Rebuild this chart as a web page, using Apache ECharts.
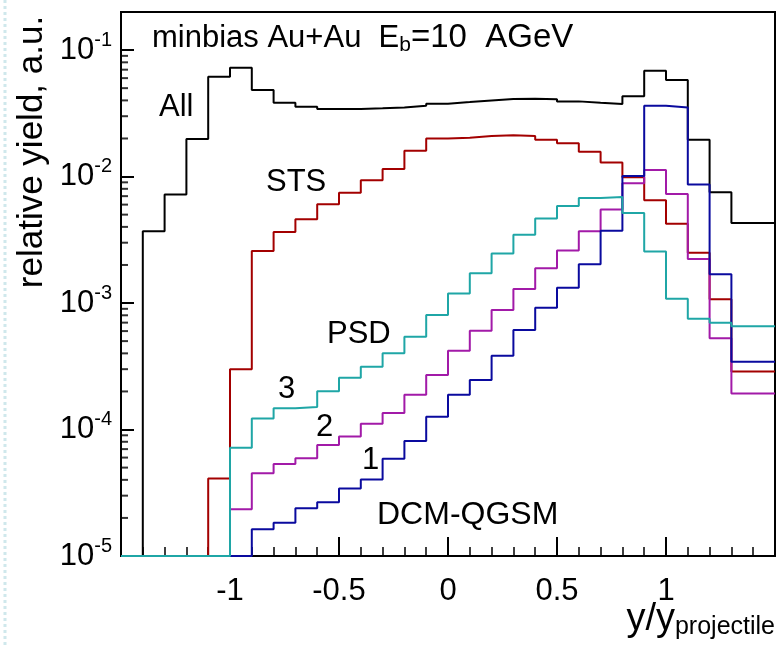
<!DOCTYPE html>
<html>
<head>
<meta charset="utf-8">
<script src="https://cdn.jsdelivr.net/npm/echarts@6/dist/echarts.min.js"></script>
<style>
html, body { margin: 0; padding: 0; background: #fff; }
#main { width: 777px; height: 648px; }
</style>
</head>
<body>
<div id="main"></div>
<script>
// histogram binning, y/y_projectile
var binStart = -1.5;
var binWidth = 0.1;
var xMin = -1.5, xMax = 1.5;
var yMin = 1e-5, yMax = 0.2;

// 30 bins each, from -1.5 to 1.5 (0 = empty bin)
var allYield = [0, 3.7e-3, 7.2e-3, 0.0198, 0.0615, 0.0725, 0.0483, 0.0383, 0.0357, 0.0342,
    0.0342, 0.0346, 0.0352, 0.0363, 0.0377, 0.0388, 0.040, 0.041, 0.0413, 0.0408,
    0.0393, 0.0383, 0.0375, 0.0432, 0.0686, 0.058, 0.0195, 7.5e-3, 4.3e-3, 4.3e-3];
var stsYield = [0, 0, 0, 0, 4.1e-5, 3.0e-4, 2.58e-3, 3.64e-3, 4.59e-3, 6.03e-3,
    7.45e-3, 9.37e-3, 0.0115, 0.0160, 0.0200, 0.0203, 0.0209, 0.0212, 0.0209, 0.0195,
    0.0183, 0.0157, 0.0129, 9.86e-3, 6.49e-3, 4.24e-3, 2.5e-3, 1.07e-3, 2.88e-4, 2.88e-4];
var psdYield = [0, 0, 0, 0, 0, 7.18e-5, 1.22e-4, 1.47e-4, 1.51e-4, 2.01e-4,
    2.57e-4, 3.13e-4, 4.0e-4, 5.42e-4, 8.04e-4, 1.19e-3, 1.72e-3, 2.46e-3, 3.47e-3, 4.67e-3,
    5.86e-3, 6.78e-3, 6.88e-3, 5.14e-3, 2.55e-3, 1.08e-3, 7.52e-4, 6.98e-4, 6.55e-4, 6.55e-4];
var hits2Yield = [0, 0, 0, 0, 0, 2.34e-5, 4.51e-5, 5.34e-5, 5.92e-5, 7.53e-5,
    8.8e-5, 1.11e-4, 1.35e-4, 1.88e-4, 2.70e-4, 4.2e-4, 6.04e-4, 8.81e-4, 1.29e-3, 1.88e-3,
    2.6e-3, 3.69e-3, 5.5e-3, 8.85e-3, 0.01125, 7.27e-3, 2.23e-3, 5.26e-4, 1.93e-4, 1.93e-4];
var hits1Yield = [0, 0, 0, 0, 0, 0, 1.63e-5, 1.83e-5, 2.38e-5, 2.66e-5,
    3.41e-5, 4.02e-5, 5.87e-5, 8.1e-5, 1.26e-4, 1.88e-4, 2.46e-4, 3.83e-4, 6.12e-4, 9.18e-4,
    1.32e-3, 2.03e-3, 3.72e-3, 0.0101, 0.0363, 0.0352, 8.67e-3, 1.69e-3, 3.44e-4, 3.44e-4];

var yDecades = [1e-5, 1e-4, 1e-3, 1e-2, 1e-1];

var font = 'Liberation Sans, Arial, sans-serif';

// bin contents -> step outline, empty bins sit on the frame bottom like ROOT does
function histPath(values) {
    var pts = [];
    for (var i = 0; i < values.length; i++) {
        var lo = +(binStart + i * binWidth).toFixed(2);
        var hi = +(lo + binWidth).toFixed(2);
        var v = values[i] > yMin ? values[i] : yMin;
        pts.push([lo, v], [hi, v]);
    }
    return pts;
}

function histSeries(name, values, color) {
    return {
        name: name,
        type: 'line',
        data: histPath(values),
        symbol: 'none',
        lineStyle: { color: color, width: 2 },
        itemStyle: { color: color },
        animation: false,
        silent: true
    };
}

// log minor ticks 2..9 x 10^n
var minorTickVals = [];
yDecades.forEach(function (d) {
    for (var k = 2; k <= 9; k++) {
        if (d * k <= yMax * 1.0001) minorTickVals.push(d * k);
    }
});

var myChart = echarts.init(document.getElementById('main'));

myChart.setOption({
    backgroundColor: '#fff',
    animation: false,
    grid: {
        left: 121, right: 2, top: 12, bottom: 92,
        show: true, borderColor: '#000', borderWidth: 2
    },
    xAxis: {
        type: 'value',
        min: xMin, max: xMax, interval: 0.5,
        axisLine: { show: true, onZero: false, lineStyle: { color: '#000', width: 2 } },
        axisTick: { show: true, inside: true, length: 19, lineStyle: { color: '#000', width: 2 } },
        minorTick: { show: true, splitNumber: 5, length: 9, lineStyle: { color: '#000', width: 1.5 } },
        splitLine: { show: false },
        axisLabel: {
            show: true,
            color: '#000', fontSize: 31, fontFamily: font, margin: 20,
            showMinLabel: false, showMaxLabel: false
        }
    },
    yAxis: {
        type: 'log', logBase: 10,
        min: yMin, max: yMax,
        axisLine: { show: true, onZero: false, lineStyle: { color: '#000', width: 2 } },
        axisTick: { show: true, inside: true, length: 13, lineStyle: { color: '#000', width: 2 } },
        splitLine: { show: false },
        axisLabel: {
            show: true,
            margin: 9,
            showMaxLabel: false,
            formatter: function (v) {
                var l = Math.log10(v);
                var e = Math.round(l);
                if (Math.abs(l - e) > 1e-6) return '';
                return '{b|10}{e|' + e + '}';
            },
            rich: {
                b: { fontSize: 31, lineHeight: 40, fontFamily: font, color: '#000' },
                e: { fontSize: 20, lineHeight: 20, fontFamily: font, color: '#000', verticalAlign: 'top' }
            }
        }
    },
    graphic: [
        {
            type: 'line', silent: true,
            shape: { x1: 5, y1: 0, x2: 5, y2: 648 },
            style: { stroke: '#cfe8ec', lineWidth: 3, lineDash: [3, 3] }
        },
        {
            type: 'text', x: 152, y: 38,
            style: {
                text: '{t|minbias Au+Au  E}{s|b}{u|=10  AGeV}',
                verticalAlign: 'middle',
                rich: {
                    t: { fontSize: 31, lineHeight: 36, fontFamily: font, fill: '#000' },
                    s: { fontSize: 21, lineHeight: 14, fontFamily: font, fill: '#000', verticalAlign: 'bottom' },
                    u: { fontSize: 33, lineHeight: 36, fontFamily: font, fill: '#000' }
                }
            }
        },
        { type: 'text', x: 159, y: 107, style: { text: 'All', font: '31px ' + font, fill: '#000', verticalAlign: 'middle' } },
        { type: 'text', x: 266, y: 182, style: { text: 'STS', font: '31px ' + font, fill: '#000', verticalAlign: 'middle' } },
        { type: 'text', x: 327, y: 334, style: { text: 'PSD', font: '31px ' + font, fill: '#000', verticalAlign: 'middle' } },
        { type: 'text', x: 278, y: 389, style: { text: '3', font: '31px ' + font, fill: '#000', verticalAlign: 'middle' } },
        { type: 'text', x: 316, y: 427, style: { text: '2', font: '31px ' + font, fill: '#000', verticalAlign: 'middle' } },
        { type: 'text', x: 362, y: 460, style: { text: '1', font: '31px ' + font, fill: '#000', verticalAlign: 'middle' } },
        { type: 'text', x: 377, y: 515, style: { text: 'DCM-QGSM', font: '32px ' + font, fill: '#000', verticalAlign: 'middle' } },
        {
            type: 'text', x: 32, y: 152, rotation: Math.PI / 2,
            style: { text: 'relative yield, a.u.', font: '35px ' + font, fill: '#000', align: 'center', verticalAlign: 'middle' }
        },
        {
            type: 'text', x: 775, y: 620,
            style: {
                text: '{a|y/y}{b|projectile}',
                align: 'right', verticalAlign: 'middle',
                rich: {
                    a: { fontSize: 38, lineHeight: 40, fontFamily: font, fill: '#000' },
                    b: { fontSize: 25, lineHeight: 6, fontFamily: font, fill: '#000', verticalAlign: 'bottom' }
                }
            }
        }
    ],
    series: [
        histSeries('All', allYield, '#000000'),
        histSeries('STS', stsYield, '#a30000'),
        histSeries('2', hits2Yield, '#a21aa8'),
        histSeries('1', hits1Yield, '#0a0a9e'),
        histSeries('PSD', psdYield, '#1fa6a6'),
        {
            // short inside ticks at 2..9 x 10^n on the left frame
            type: 'scatter',
            animation: false,
            silent: true,
            clip: false,
            z: 3,
            symbol: 'rect',
            symbolSize: [7, 2],
            symbolOffset: [3.5, 0],
            itemStyle: { color: '#000' },
            data: minorTickVals.map(function (v) { return [xMin, v]; })
        }
    ]
});
</script>
</body>
</html>
